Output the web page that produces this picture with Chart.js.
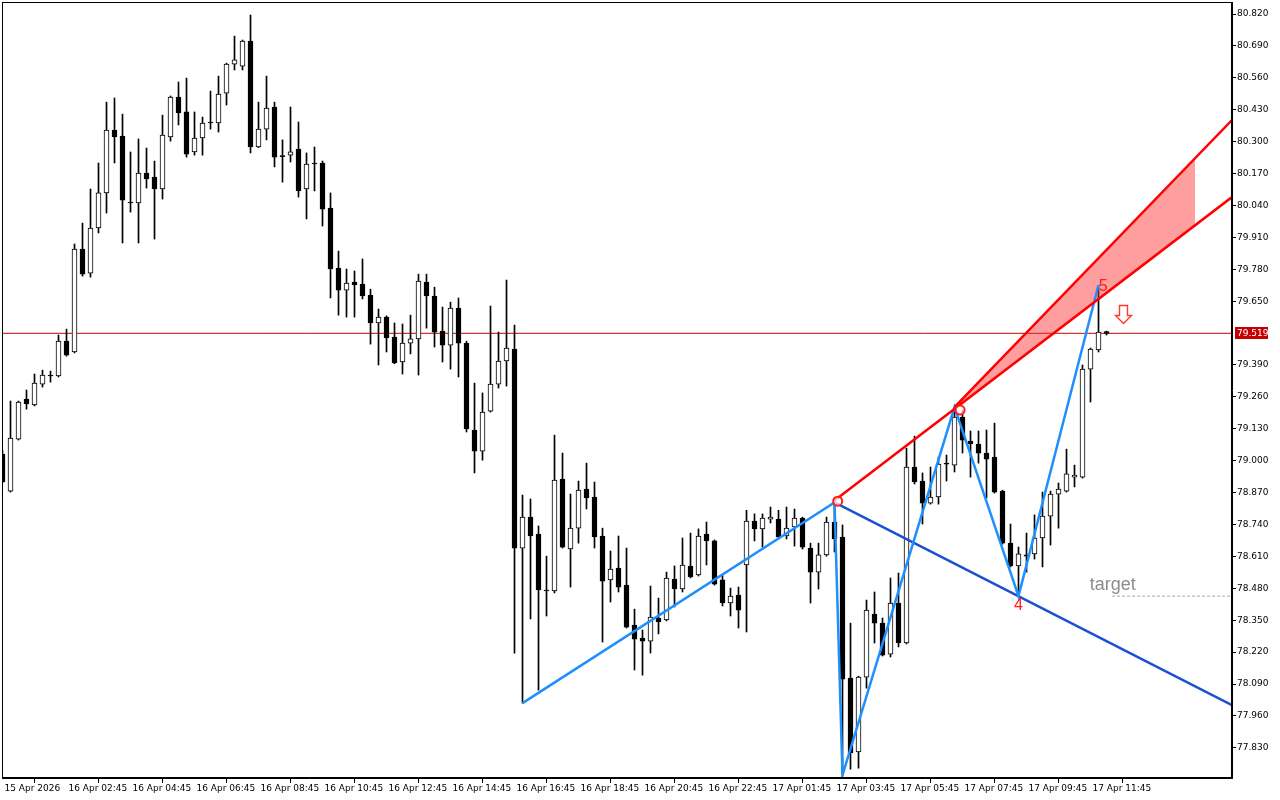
<!DOCTYPE html>
<html>
<head>
<meta charset="utf-8">
<title>Oil M15</title>
<script src="https://cdn.jsdelivr.net/npm/chart.js@4.4.1/dist/chart.umd.min.js"></script>
<style>
  html, body { margin: 0; padding: 0; background: #ffffff; }
  #priceChart { display: block; }
</style>
</head>
<body>
<canvas id="priceChart" width="1280" height="800"></canvas>
<script>
/* ===============================
   DATA (M15 bars, index = bar number)
================================ */

const open = [
  79.027, 78.876, 79.088, 79.251, 79.227, 79.312, 79.345, 79.345, 79.487, 79.443,
  79.862, 79.764, 79.948, 80.091, 80.347, 80.323, 80.054, 80.050, 80.172, 80.156,
  80.107, 80.319, 80.482, 80.421, 80.258, 80.315, 80.376, 80.376, 80.498, 80.616,
  80.608, 80.710, 80.278, 80.351, 80.441, 80.241, 80.245, 80.270, 80.107, 80.213,
  80.213, 80.029, 79.785, 79.695, 79.728, 79.720, 79.675, 79.561, 79.585, 79.504,
  79.402, 79.479, 79.496, 79.728, 79.671, 79.528, 79.471, 79.622, 79.479, 79.125,
  79.039, 79.202, 79.312, 79.406, 79.455, 78.644, 78.770, 78.701, 78.473, 78.469,
  78.925, 78.640, 78.725, 78.884, 78.852, 78.693, 78.514, 78.562, 78.493, 78.330,
  78.277, 78.265, 78.359, 78.351, 78.518, 78.477, 78.571, 78.534, 78.701, 78.673,
  78.514, 78.420, 78.452, 78.575, 78.754, 78.722, 78.762, 78.762, 78.693, 78.730,
  78.766, 78.644, 78.546, 78.616, 78.750, 78.689, 78.114, 77.813, 78.118, 78.375,
  78.338, 78.212, 78.420, 78.257, 78.974, 78.917, 78.827, 78.852, 78.986, 78.982,
  79.178, 79.080, 79.068, 79.031, 79.015, 78.876, 78.664, 78.571, 78.611, 78.620,
  78.685, 78.774, 78.864, 78.876, 78.933, 78.933, 79.373, 79.451, 79.526
];

const high = [
  79.043, 79.243, 79.243, 79.288, 79.353, 79.369, 79.365, 79.512, 79.536, 79.883,
  79.968, 80.107, 80.213, 80.461, 80.478, 80.412, 80.258, 80.311, 80.274, 80.221,
  80.408, 80.486, 80.543, 80.559, 80.421, 80.400, 80.506, 80.567, 80.620, 80.730,
  80.714, 80.816, 80.461, 80.567, 80.461, 80.307, 80.441, 80.380, 80.254, 80.278,
  80.221, 80.091, 79.854, 79.781, 79.773, 79.822, 79.699, 79.618, 79.590, 79.561,
  79.557, 79.593, 79.760, 79.760, 79.707, 79.626, 79.646, 79.663, 79.487, 79.316,
  79.276, 79.630, 79.524, 79.736, 79.553, 78.860, 78.844, 78.734, 78.611, 79.104,
  79.031, 78.864, 78.917, 78.990, 78.913, 78.725, 78.632, 78.693, 78.644, 78.395,
  78.310, 78.489, 78.440, 78.546, 78.571, 78.685, 78.705, 78.722, 78.750, 78.677,
  78.534, 78.481, 78.485, 78.798, 78.783, 78.783, 78.811, 78.798, 78.811, 78.803,
  78.770, 78.664, 78.664, 78.770, 78.830, 78.738, 78.338, 78.122, 78.432, 78.465,
  78.359, 78.522, 78.542, 79.051, 79.100, 78.950, 78.974, 79.015, 79.023, 79.218,
  79.206, 79.121, 79.121, 79.125, 79.153, 78.880, 78.742, 78.648, 78.705, 78.779,
  78.872, 78.876, 78.909, 79.047, 78.982, 79.390, 79.459, 79.712, 79.528
];

const low = [
  78.909, 78.872, 79.084, 79.210, 79.223, 79.300, 79.320, 79.341, 79.426, 79.439,
  79.752, 79.748, 79.928, 80.009, 80.213, 79.887, 80.013, 79.887, 80.111, 79.903,
  80.066, 80.302, 80.368, 80.237, 80.245, 80.245, 80.351, 80.339, 80.449, 80.592,
  80.592, 80.254, 80.276, 80.307, 80.197, 80.135, 80.217, 80.074, 79.985, 80.099,
  79.956, 79.663, 79.593, 79.585, 79.585, 79.659, 79.475, 79.390, 79.443, 79.395,
  79.353, 79.435, 79.349, 79.540, 79.463, 79.402, 79.373, 79.341, 79.117, 78.950,
  79.002, 79.198, 79.296, 79.304, 78.216, 78.012, 78.355, 78.065, 78.367, 78.461,
  78.644, 78.485, 78.664, 78.803, 78.644, 78.261, 78.424, 78.465, 78.318, 78.147,
  78.126, 78.216, 78.294, 78.347, 78.404, 78.465, 78.522, 78.530, 78.575, 78.493,
  78.408, 78.367, 78.318, 78.302, 78.673, 78.648, 78.746, 78.685, 78.681, 78.652,
  78.640, 78.420, 78.477, 78.611, 78.628, 77.719, 77.743, 77.747, 78.073, 78.257,
  78.204, 78.200, 78.241, 78.253, 78.905, 78.742, 78.823, 78.823, 78.917, 78.954,
  79.031, 78.933, 78.990, 78.848, 78.868, 78.660, 78.567, 78.448, 78.546, 78.599,
  78.567, 78.656, 78.725, 78.872, 78.893, 78.929, 79.239, 79.443, 79.512
];

const close = [
  78.913, 79.092, 79.239, 79.231, 79.316, 79.349, 79.347, 79.487, 79.430, 79.862,
  79.760, 79.948, 80.091, 80.347, 80.319, 80.062, 80.050, 80.172, 80.148, 80.107,
  80.327, 80.482, 80.417, 80.249, 80.315, 80.376, 80.378, 80.494, 80.616, 80.633,
  80.710, 80.278, 80.351, 80.437, 80.237, 80.239, 80.258, 80.099, 80.209, 80.209,
  80.025, 79.781, 79.695, 79.724, 79.716, 79.671, 79.561, 79.585, 79.500, 79.398,
  79.479, 79.496, 79.732, 79.671, 79.524, 79.471, 79.622, 79.479, 79.129, 79.039,
  79.198, 79.312, 79.406, 79.459, 78.644, 78.770, 78.693, 78.473, 78.469, 78.921,
  78.648, 78.725, 78.880, 78.848, 78.689, 78.509, 78.558, 78.485, 78.322, 78.273,
  78.265, 78.363, 78.343, 78.522, 78.477, 78.575, 78.526, 78.693, 78.673, 78.497,
  78.420, 78.448, 78.391, 78.754, 78.722, 78.766, 78.770, 78.689, 78.725, 78.766,
  78.648, 78.546, 78.616, 78.750, 78.681, 78.110, 77.809, 78.118, 78.391, 78.338,
  78.208, 78.420, 78.257, 78.974, 78.913, 78.827, 78.852, 78.986, 78.990, 79.178,
  79.084, 79.068, 79.031, 79.006, 78.872, 78.664, 78.571, 78.620, 78.616, 78.685,
  78.774, 78.864, 78.884, 78.946, 78.941, 79.373, 79.455, 79.524, 79.519
];

// time axis labels, one every 8 bars
const tickBars = [0, 8, 16, 24, 32, 40, 48, 56, 64, 72, 80, 88, 96, 104, 112, 120, 128, 136];
const tickLabels = [
  "15 Apr 2026", "16 Apr 02:45", "16 Apr 04:45", "16 Apr 06:45", "16 Apr 08:45",
  "16 Apr 10:45", "16 Apr 12:45", "16 Apr 14:45", "16 Apr 16:45", "16 Apr 18:45",
  "16 Apr 20:45", "16 Apr 22:45", "17 Apr 01:45", "17 Apr 03:45", "17 Apr 05:45",
  "17 Apr 07:45", "17 Apr 09:45", "17 Apr 11:45"
];

// price axis labels
const priceTicks = [
  80.820, 80.690, 80.560, 80.430, 80.300, 80.170, 80.040, 79.910, 79.780, 79.650,
  79.390, 79.260, 79.130, 79.000, 78.870, 78.740, 78.610, 78.480, 78.350,
  78.220, 78.090, 77.960, 77.830
];

// zigzag wave points
const waveBars = [65, 104, 105, 119, 127, 137];
const wavePrices = [78.012, 78.830, 77.719, 79.218, 78.448, 79.716];

// trend rays: [start bar, end bar], [start price, end price]
const X_MIN = -0.0625;
const X_MAX = 153.6875;
const blueRayBars = [104, X_MAX];
const blueRayPrices = [78.830, 78.004];
const redLowBars = [104, X_MAX];
const redLowPrices = [78.838, 80.074];
const redHighBars = [119, X_MAX];
const redHighPrices = [79.218, 80.388];
const fillBars = [119, 149.06];

// markers on the pattern
const circleBars = [104.4, 104.9, 119.7];
const circlePrices = [78.835, 77.690, 79.206];
const waveTextBars = [127, 137.6];
const waveTextPrices = [78.408, 79.709];
const waveTexts = ["4", "5"];

const bidPrice = 79.519;
const targetPrice = 78.448;
const targetStartBar = 138.7;
const targetTextBar = 135.9;
const targetTextPrice = 78.473;
const arrowBar = 140;
const arrowPrice = 79.561;

const Y_MIN = 77.707;
const Y_MAX = 80.869;

/* ===============================
   HELPERS
================================ */

function rayAt(bars, prices, b) {
  const k = (prices[1] - prices[0]) / (bars[1] - bars[0]);
  return prices[0] + (b - bars[0]) * k;
}

function rayPoints(bars, prices) {
  return [
    { x: bars[0], y: prices[0] },
    { x: bars[1], y: prices[1] },
  ];
}

const wickData = open.map((o, i) => ({ x: i, y: [low[i], high[i]] }));
const bodyData = open.map((o, i) => ({ x: i, y: [o, close[i]] }));

function bodyColor(ctx) {
  const i = ctx.dataIndex;
  if (i === undefined) return "#000";
  const diff = close[i] - open[i];
  if (Math.abs(diff) < 0.006) return "#000000";
  return diff > 0 ? "#ffffff" : "#000000";
}

/* ===============================
   OVERLAY: frame, labels, price tag, arrow
================================ */

const overlay = {
  id: "overlay",
  afterDraw(chart) {
    const { ctx, chartArea, scales } = chart;
    const xs = scales.x;
    const ys = scales.y;

    ctx.save();

    // frame
    ctx.strokeStyle = "#000";
    ctx.lineWidth = 1;
    ctx.strokeRect(chartArea.left + 0.5, chartArea.top + 0.5,
      chartArea.right - chartArea.left - 1, chartArea.bottom - chartArea.top - 1);

    // wave numbers
    ctx.fillStyle = "#ff1a1a";
    ctx.font = "16px 'Liberation Sans', Arial, sans-serif";
    ctx.textAlign = "center";
    ctx.textBaseline = "middle";
    waveTexts.forEach((t, i) => {
      ctx.fillText(t, xs.getPixelForValue(waveTextBars[i]), ys.getPixelForValue(waveTextPrices[i]));
    });

    // target text
    ctx.fillStyle = "#8c8c8c";
    ctx.font = "18px 'Liberation Sans', Arial, sans-serif";
    ctx.textAlign = "left";
    ctx.textBaseline = "alphabetic";
    ctx.fillText("target", xs.getPixelForValue(targetTextBar), ys.getPixelForValue(targetTextPrice));

    // sell arrow
    const ax = Math.round(xs.getPixelForValue(arrowBar)) + 0.5;
    const ay = Math.round(ys.getPixelForValue(arrowPrice)) + 0.5;
    ctx.beginPath();
    ctx.moveTo(ax, ay);
    ctx.lineTo(ax - 8, ay - 8);
    ctx.lineTo(ax - 4, ay - 8);
    ctx.lineTo(ax - 4, ay - 18);
    ctx.lineTo(ax + 4, ay - 18);
    ctx.lineTo(ax + 4, ay - 8);
    ctx.lineTo(ax + 8, ay - 8);
    ctx.closePath();
    ctx.fillStyle = "#ffffff";
    ctx.fill();
    ctx.strokeStyle = "#ff3a2a";
    ctx.lineWidth = 1.4;
    ctx.stroke();

    // bid price tag
    const py = Math.round(ys.getPixelForValue(bidPrice));
    ctx.fillStyle = "#c40000";
    ctx.fillRect(chartArea.right + 3, py - 6, 33, 12);
    ctx.fillStyle = "#ffffff";
    ctx.font = "9px 'DejaVu Sans', sans-serif";
    ctx.textAlign = "left";
    ctx.textBaseline = "middle";
    ctx.fillText(bidPrice.toFixed(3), chartArea.right + 5, py + 0.5);

    ctx.restore();
  },
};

/* ===============================
   CHART
================================ */

const el = document.getElementById("priceChart");
const axisFont = { family: "'DejaVu Sans', sans-serif", size: 9 };

new Chart(el, {
  data: {
    datasets: [
      {
        type: "line",
        label: "Bid",
        data: [{ x: X_MIN, y: bidPrice }, { x: X_MAX, y: bidPrice }],
        borderColor: "#c80000",
        borderWidth: 1,
        pointRadius: 0,
        order: 12,
      },
      {
        type: "bar",
        label: "Wicks",
        data: wickData,
        backgroundColor: "#000000",
        barThickness: 1,
        grouped: false,
        order: 11,
      },
      {
        type: "bar",
        label: "Bodies",
        data: bodyData,
        backgroundColor: bodyColor,
        borderColor: "#000000",
        borderWidth: 1,
        borderSkipped: false,
        barThickness: 5,
        minBarLength: 1,
        grouped: false,
        order: 10,
      },
      {
        type: "line",
        label: "fillHigh",
        data: fillBars.map((b) => ({ x: b, y: rayAt(redHighBars, redHighPrices, b) })),
        borderWidth: 0,
        pointRadius: 0,
        fill: false,
        order: 9,
      },
      {
        type: "line",
        label: "fillLow",
        data: fillBars.map((b) => ({ x: b, y: rayAt(redLowBars, redLowPrices, b) })),
        borderWidth: 0,
        pointRadius: 0,
        fill: "-1",
        backgroundColor: "rgba(255,40,40,0.45)",
        order: 8,
      },
      {
        type: "line",
        label: "Target",
        data: [{ x: targetStartBar, y: targetPrice }, { x: X_MAX, y: targetPrice }],
        borderColor: "#a8a8a8",
        borderWidth: 1,
        borderDash: [3, 2],
        pointRadius: 0,
        order: 7,
      },
      {
        type: "line",
        label: "Lower ray",
        data: rayPoints(blueRayBars, blueRayPrices),
        borderColor: "#1a50d2",
        borderWidth: 2.5,
        pointRadius: 0,
        order: 6,
      },
      {
        type: "line",
        label: "Wave",
        data: waveBars.map((b, i) => ({ x: b, y: wavePrices[i] })),
        borderColor: "#1e8fff",
        borderWidth: 2.5,
        pointRadius: 0,
        order: 5,
      },
      {
        type: "line",
        label: "Red low",
        data: rayPoints(redLowBars, redLowPrices),
        borderColor: "#ff0000",
        borderWidth: 2.5,
        pointRadius: 0,
        order: 4,
      },
      {
        type: "line",
        label: "Red high",
        data: rayPoints(redHighBars, redHighPrices),
        borderColor: "#ff0000",
        borderWidth: 2.5,
        pointRadius: 0,
        order: 3,
      },
      {
        type: "line",
        label: "Marks",
        data: circleBars.map((b, i) => ({ x: b, y: circlePrices[i] })),
        showLine: false,
        pointRadius: 4.5,
        pointBorderWidth: 2,
        pointBorderColor: "#ff1a1a",
        pointBackgroundColor: "rgba(255,255,255,0.7)",
        order: 1,
      },
    ],
  },
  options: {
    responsive: false,
    animation: false,
    devicePixelRatio: 1,
    layout: { autoPadding: false, padding: { left: 2, top: 2, right: 0, bottom: 0 } },
    plugins: {
      legend: { display: false },
      tooltip: { enabled: false },
    },
    scales: {
      x: {
        type: "linear",
        min: X_MIN,
        max: X_MAX,
        offset: false,
        grid: { drawOnChartArea: false, drawTicks: true, tickLength: 5, tickColor: "#000" },
        border: { display: true, color: "#000" },
        afterBuildTicks: (scale) => {
          scale.ticks = tickBars.map((v) => ({ value: v }));
        },
        ticks: {
          autoSkip: false,
          maxRotation: 0,
          minRotation: 0,
          align: "start",
          labelOffset: 2,
          padding: 0,
          color: "#000",
          font: axisFont,
          callback: (v) => tickLabels[tickBars.indexOf(v)],
        },
        afterFit: (scale) => {
          scale.height = 22;
          scale.paddingLeft = 0;
          scale.paddingRight = 0;
        },
      },
      y: {
        type: "linear",
        position: "right",
        min: Y_MIN,
        max: Y_MAX,
        grid: { drawOnChartArea: false, drawTicks: true, tickLength: 4, tickColor: "#000" },
        border: { display: true, color: "#000" },
        afterBuildTicks: (scale) => {
          scale.ticks = priceTicks.map((v) => ({ value: v }));
        },
        ticks: {
          autoSkip: false,
          padding: 1,
          color: "#000",
          font: axisFont,
          callback: (v) => v.toFixed(3),
        },
        afterFit: (scale) => {
          scale.width = 48;
          scale.paddingTop = 0;
          scale.paddingBottom = 0;
        },
      },
    },
  },
  plugins: [overlay],
});
</script>
</body>
</html>
